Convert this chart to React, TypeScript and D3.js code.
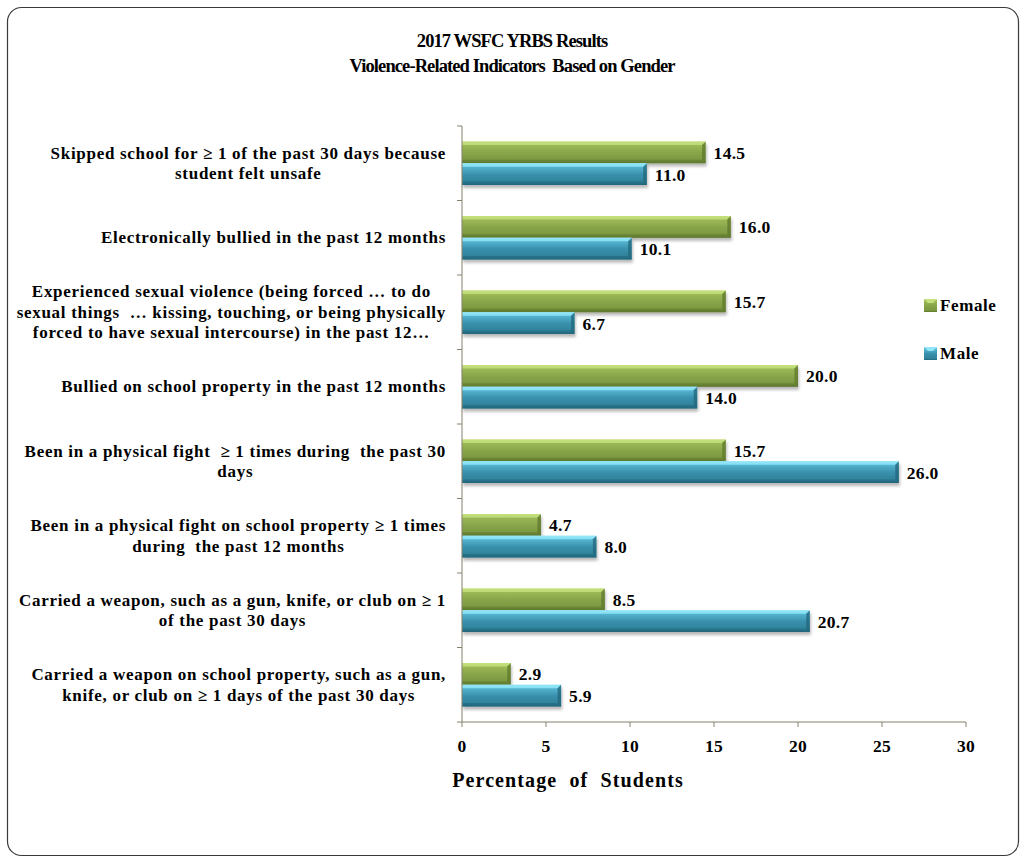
import { useEffect, useRef } from "react";
import * as d3 from "d3";

// chart values
const categories = [
  "Skipped school for ≥ 1 of the past 30 days because\nstudent felt unsafe",
  "Electronically bullied in the past 12 months",
  "Experienced sexual violence (being forced … to do\nsexual things  … kissing, touching, or being physically\nforced to have sexual intercourse) in the past 12…",
  "Bullied on school property in the past 12 months",
  "Been in a physical fight  ≥ 1 times during  the past 30\ndays",
  "Been in a physical fight on school property ≥ 1 times\nduring  the past 12 months",
  "Carried a weapon, such as a gun, knife, or club on ≥ 1\nof the past 30 days",
  "Carried a weapon on school property, such as a gun,\nknife, or club on ≥ 1 days of the past 30 days",
];
const female = [14.5, 16.0, 15.7, 20.0, 15.7, 4.7, 8.5, 2.9];
const male = [11.0, 10.1, 6.7, 14.0, 26.0, 8.0, 20.7, 5.9];
const seriesNames = ["Female", "Male"];
const xTicks = [0, 5, 10, 15, 20, 25, 30];
const titleLines = ["2017 WSFC YRBS Results", "Violence-Related Indicators  Based on Gender"];
const axisTitle = "Percentage  of  Students";

const W = 1024;
const H = 863;
const FONT = "'Liberation Serif', 'Times New Roman', serif";

const palette: Record<string, string[]> = {
  Female: ["#c4df7c", "#9dbb58", "#8aa64b", "#7b973f", "#5d772b"],
  Male: ["#92e6f8", "#58b8d4", "#3a91ad", "#2f8199", "#22667b"],
};

export default function App() {
  const ref = useRef<SVGSVGElement>(null);

  useEffect(() => {
    const svg = d3.select(ref.current);
    svg.selectAll("*").remove();

    const left = 462, right = 966, top = 126, bottom = 722;
    const x = d3.scaleLinear().domain([0, 30]).range([left, right]);
    const y = d3.scaleBand().domain(categories).range([top, bottom]).padding(0);
    const inner = d3.scaleBand().domain(seriesNames).range([15.5, 59]).padding(0);

    const defs = svg.append("defs");
    seriesNames.forEach((s) => {
      const g = defs
        .append("linearGradient")
        .attr("id", "grad-" + s)
        .attr("x1", 0).attr("y1", 0).attr("x2", 0).attr("y2", 1);
      const c = palette[s];
      [[0, c[0]], [0.14, c[1]], [0.5, c[2]], [0.88, c[3]], [1, c[4]]].forEach(([o, col]) =>
        g.append("stop").attr("offset", o as number).attr("stop-color", col as string)
      );
    });
    const f = defs.append("filter").attr("id", "shadow").attr("x", "-5%").attr("y", "-30%").attr("width", "110%").attr("height", "180%");
    f.append("feDropShadow")
      .attr("dx", 1).attr("dy", 3).attr("stdDeviation", 1.6)
      .attr("flood-color", "#000").attr("flood-opacity", 0.28);

    // outer border
    svg.append("rect")
      .attr("x", 7.5).attr("y", 7.5).attr("width", 1011).attr("height", 848)
      .attr("rx", 14).attr("fill", "#fff").attr("stroke", "#3a3a3a").attr("stroke-width", 1.2);

    // title
    svg.append("text")
      .attr("x", 512).attr("y", 47)
      .attr("text-anchor", "middle")
      .attr("font-family", FONT).attr("font-weight", "bold").attr("font-size", 18.5)
      .attr("letter-spacing", -0.9)
      .style("white-space", "pre")
      .selectAll("tspan").data(titleLines).enter().append("tspan")
      .attr("x", 512).attr("dy", (_d, i) => (i === 0 ? 0 : 25))
      .text((d) => d);

    // bars
    const drawBar = (g: d3.Selection<SVGGElement, unknown, null, undefined>, s: string, x0: number, x1: number, y0: number, h: number) => {
      const c = palette[s];
      const b = Math.min(3.5, (x1 - x0) / 3);
      const bar = g.append("g").attr("filter", "url(#shadow)");
      bar.append("rect").attr("x", x0).attr("y", y0).attr("width", x1 - x0).attr("height", h).attr("fill", `url(#grad-${s})`);
      bar.append("polygon")
        .attr("points", `${x0},${y0} ${x1},${y0} ${x1 - b},${y0 + b} ${x0},${y0 + b}`)
        .attr("fill", c[0]).attr("opacity", 0.85);
      bar.append("polygon")
        .attr("points", `${x1},${y0} ${x1},${y0 + h} ${x1 - b},${y0 + h - b} ${x1 - b},${y0 + b}`)
        .attr("fill", c[4]).attr("opacity", 0.75);
      bar.append("polygon")
        .attr("points", `${x0},${y0 + h} ${x1},${y0 + h} ${x1 - b},${y0 + h - b} ${x0},${y0 + h - b}`)
        .attr("fill", c[4]).attr("opacity", 0.55);
    };

    const plot = svg.append("g");
    const series: [string, number[]][] = [["Female", female], ["Male", male]];
    categories.forEach((cat, i) => {
      series.forEach(([s, vals]) => {
        const y0 = (y(cat) as number) + (inner(s) as number);
        const h = inner.bandwidth();
        drawBar(plot, s, x(0), x(vals[i]), y0, h);
        plot.append("text")
          .attr("x", x(vals[i]) + 8).attr("y", y0 + h / 2 + 6.5)
          .attr("font-family", FONT).attr("font-weight", "bold").attr("font-size", 17.5)
          .attr("letter-spacing", 0.3)
          .attr("fill", "#000")
          .text(d3.format(".1f")(vals[i]));
      });
    });

    // axes
    const axisColor = "#86826a";
    const yAxis = svg.append("g");
    yAxis.append("line").attr("x1", left).attr("x2", left).attr("y1", top).attr("y2", bottom).attr("stroke", axisColor);
    const yTickPos = categories.map((c) => y(c) as number).concat([bottom]);
    yAxis.selectAll("line.t").data(yTickPos).enter().append("line")
      .attr("x1", left - 5).attr("x2", left).attr("y1", (d) => d).attr("y2", (d) => d).attr("stroke", axisColor);

    const xAxis = svg.append("g");
    xAxis.append("line").attr("x1", left).attr("x2", right).attr("y1", bottom).attr("y2", bottom).attr("stroke", axisColor);
    xAxis.selectAll("line.t").data(xTicks).enter().append("line")
      .attr("x1", (d) => x(d)).attr("x2", (d) => x(d)).attr("y1", bottom).attr("y2", bottom + 5).attr("stroke", axisColor);
    xAxis.selectAll("text").data(xTicks).enter().append("text")
      .attr("x", (d) => x(d)).attr("y", bottom + 30)
      .attr("text-anchor", "middle")
      .attr("font-family", FONT).attr("font-weight", "bold").attr("font-size", 17.5)
      .attr("letter-spacing", 0.3)
      .text((d) => d);

    // category labels: lines centred, block right-aligned to the axis
    const lineH = 20.5;
    categories.forEach((cat) => {
      const lines = cat.split("\n");
      const cy = (y(cat) as number) + y.bandwidth() / 2;
      const t = svg.append("text")
        .attr("font-family", FONT).attr("font-weight", "bold").attr("font-size", 17)
        .attr("letter-spacing", 0.7)
        .attr("text-anchor", "middle")
        .style("white-space", "pre");
      const spans = lines.map((ln, j) =>
        t.append("tspan").attr("y", cy + (j - (lines.length - 1) / 2) * lineH + 5.5).text(ln)
      );
      const widths = spans.map((sp) => (sp.node() as SVGTSpanElement).getComputedTextLength());
      const maxW = d3.max(widths) || 0;
      spans.forEach((sp) => sp.attr("x", 446 - maxW / 2));
    });

    // legend
    const legendY = [299, 347];
    seriesNames.forEach((s, i) => {
      const g = svg.append("g");
      const c = palette[s];
      g.append("rect").attr("x", 924).attr("y", legendY[i]).attr("width", 13).attr("height", 13).attr("fill", `url(#grad-${s})`);
      g.append("polygon")
        .attr("points", `924,${legendY[i]} 937,${legendY[i]} 933,${legendY[i] + 4} 928,${legendY[i] + 4}`)
        .attr("fill", c[0]);
      g.append("text")
        .attr("x", 940).attr("y", legendY[i] + 12)
        .attr("font-family", FONT).attr("font-weight", "bold").attr("font-size", 17)
        .attr("letter-spacing", 0.6)
        .text(s);
    });

    // axis title
    svg.append("text")
      .attr("x", 568).attr("y", 787)
      .attr("text-anchor", "middle")
      .attr("font-family", FONT).attr("font-weight", "bold").attr("font-size", 20)
      .attr("letter-spacing", 1.1)
      .style("white-space", "pre")
      .text(axisTitle);
  }, []);

  return (
    <svg
      ref={ref}
      width={W}
      height={H}
      style={{ position: "absolute", left: 0, top: 0, display: "block" }}
    />
  );
}
